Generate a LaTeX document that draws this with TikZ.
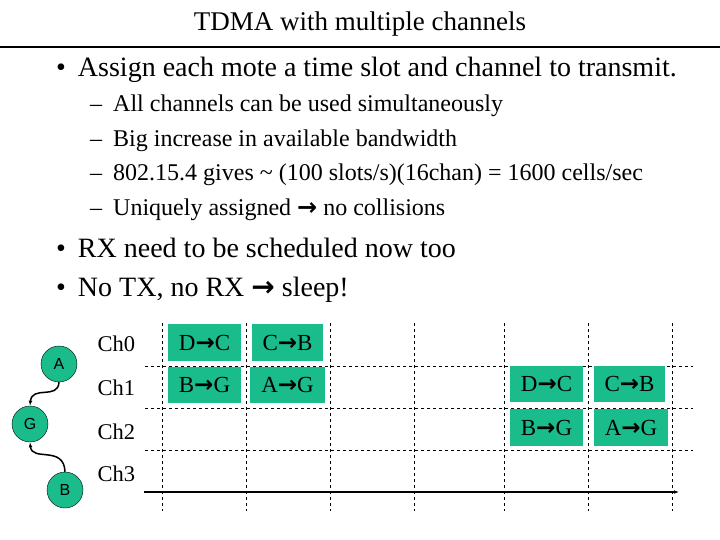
\documentclass[tikz,border=0pt]{standalone}
\usepackage{fontspec}
\usetikzlibrary{arrows.meta}
\setmainfont{Liberation Serif}
\newfontfamily\arial{Liberation Sans}
\newfontfamily\dejavu{DejaVu Sans}
\newcommand{\ar}{{\dejavu\bfseries →}}
\definecolor{grn}{RGB}{26,188,140}
\begin{document}
\begin{tikzpicture}[x=1pt,y=-1pt,
  box/.style={fill=grn,inner sep=0pt,font=\fontsize{23}{23}\selectfont},
  mote/.style={circle,draw=black,fill=grn,minimum size=36pt,inner sep=0pt,font=\arial\fontsize{16}{16}\selectfont},
  grid/.style={dashed,line width=0.8pt},
  lab/.style={anchor=west,font=\fontsize{22.5}{22.5}\selectfont},
  txt/.style={anchor=west,inner sep=0pt}]
\useasboundingbox (0,0) rectangle (720,540);
\node (title) at (360,24) {\fontsize{27}{27}\selectfont TDMA with multiple channels};
\draw[line width=2pt] (0,47) -- (720,47);
\node[txt] (b1) at (56,70) {\fontsize{28}{28}\selectfont •\hspace{12pt}Assign each mote a time slot and channel to transmit.};
\node[txt] (s1) at (90,106) {\fontsize{24}{24}\selectfont –\hspace{11pt}All channels can be used simultaneously};
\node[txt] (s2) at (90,141) {\fontsize{24}{24}\selectfont –\hspace{11pt}Big increase in available bandwidth};
\node[txt] (s3) at (90,175) {\fontsize{24}{24}\selectfont –\hspace{11pt}802.15.4 gives \textasciitilde\ (100 slots/s)(16chan) = 1600 cells/sec};
\node[txt] (s4) at (90,210) {\fontsize{24}{24}\selectfont –\hspace{11pt}Uniquely assigned \ar\ no collisions};
\node[txt] (b2) at (56,248) {\fontsize{28}{28}\selectfont •\hspace{12pt}RX need to be scheduled now too};
\node[txt] (b3) at (56,290) {\fontsize{28}{28}\selectfont •\hspace{12pt}No TX, no RX \ar\ sleep!};
% grid
\foreach \x in {162,246,330,414,504,588,672} \draw[grid] (\x,323) -- (\x,511);
\foreach \y in {366,408,450} \draw[grid] (145,\y) -- (693,\y);
\coordinate (a0) at (144,492); \coordinate (a1) at (679,492);
\draw[line width=1.5pt,-{Latex[length=5pt]}] (a0) -- (a1);
% labels
\node[lab] (c0) at (94,344) {Ch0};
\node[lab] (c1) at (94,388) {Ch1};
\node[lab] (c2) at (94,432) {Ch2};
\node[lab] (c3) at (94,474) {Ch3};
% boxes
\node[box,minimum width=73pt,minimum height=37pt] (x1) at (204.5,342.5) {D\ar C};
\node[box,minimum width=71pt,minimum height=37pt] (x2) at (287.5,342.5) {C\ar B};
\node[box,minimum width=73pt,minimum height=36pt] (x3) at (204.5,385) {B\ar G};
\node[box,minimum width=75pt,minimum height=36pt] (x4) at (287.5,385) {A\ar G};
\node[box,minimum width=73pt,minimum height=36pt] (x5) at (546.5,384) {D\ar C};
\node[box,minimum width=71pt,minimum height=36pt] (x6) at (629.5,384) {C\ar B};
\node[box,minimum width=73pt,minimum height=37pt] (x7) at (546.5,427.5) {B\ar G};
\node[box,minimum width=74pt,minimum height=37pt] (x8) at (631,427.5) {A\ar G};
% motes
\node[mote] (A) at (59,364) {A};
\node[mote] (G) at (30,424) {G};
\node[mote] (B) at (65,490) {B};
\draw[line width=1.5pt,-{Latex[length=5pt]}] (A.south) .. controls (58,400) and (32,385) .. (G.north);
\draw[line width=1.5pt,-{Latex[length=5pt]}] (B.north) .. controls (64,445) and (32,462) .. (G.south);
\end{tikzpicture}
\end{document}
